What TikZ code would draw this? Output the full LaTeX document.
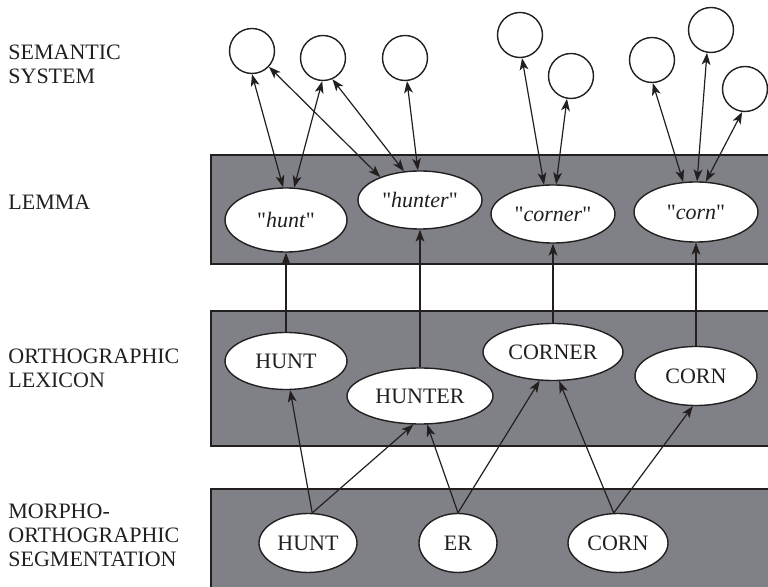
\documentclass[tikz,border=0pt]{standalone}
\usepackage{fontspec}
\setmainfont{Liberation Serif}
\usetikzlibrary{arrows.meta}
\usetikzlibrary{shapes.geometric}
\definecolor{bandgray}{RGB}{128,129,134}
\definecolor{inkblack}{RGB}{35,31,32}
\tikzset{
    layer/.style={draw=inkblack, fill=bandgray, line width=0.6pt},
    meaning/.style={circle, draw=inkblack, fill=white, line width=0.7pt,
        minimum size=22.5pt, inner sep=0pt},
    unit/.style={ellipse, draw=inkblack, fill=white, line width=0.7pt,
        inner sep=0pt, text=inkblack},
    levelname/.style={anchor=base west, align=left, inner sep=0pt, text=inkblack},
    link/.style={draw=inkblack, line width=0.6pt,
        -{Stealth[length=6pt,width=4.4pt,inset=1.6pt]}},
    duallink/.style={draw=inkblack, line width=0.6pt,
        {Stealth[length=6pt,width=4.4pt,inset=1.6pt]}-{Stealth[length=6pt,width=4.4pt,inset=1.6pt]}},
}
\newcommand{\lemmaword}[1]{\textquotedbl\textit{#1}\textquotedbl}

\begin{document}
\begin{tikzpicture}[x=0.5pt, y=-0.5pt, font=\fontsize{11}{12}\selectfont]
		\useasboundingbox (0,0) rectangle (768,587);
		\clip (0,0) rectangle (768,587);
		% bands
		\draw[layer] (211,155) rectangle (790,264);
		\draw[layer] (211,311) rectangle (790,446);
		\draw[layer] (211,489) rectangle (790,600);
		% level names (base = last line)
		\node[levelname] (semName) at (8,84) {SEMANTIC\\SYSTEM};
		\node[levelname] (lemName) at (8,210) {LEMMA};
		\node[levelname] (orthName) at (8,388) {ORTHOGRAPHIC\\LEXICON};
		\node[levelname] (segName) at (8,567) {MORPHO-\\ORTHOGRAPHIC\\SEGMENTATION};
		% semantic system
		\node[meaning] (sem1) at (252,51) {};
		\node[meaning] (sem2) at (323,58) {};
		\node[meaning] (sem3) at (405,58) {};
		\node[meaning] (sem4) at (520,35) {};
		\node[meaning] (sem5) at (571,76) {};
		\node[meaning] (sem6) at (652,60) {};
		\node[meaning] (sem7) at (711,30) {};
		\node[meaning] (sem8) at (745,89) {};
		% lemmas
		\node[unit, minimum width=61pt, minimum height=32pt] (lHunt) at (286,220) {\lemmaword{hunt}};
		\node[unit, minimum width=62pt, minimum height=29pt] (lHunter) at (420,200) {\lemmaword{hunter}};
		\node[unit, minimum width=62pt, minimum height=29pt] (lCorner) at (553,214) {\lemmaword{corner}};
		\node[unit, minimum width=62pt, minimum height=30pt] (lCorn) at (696,212) {\lemmaword{corn}};
		% orthographic lexicon
		\node[unit, minimum width=61pt, minimum height=28.5pt] (oHunt) at (286,361) {HUNT};
		\node[unit, minimum width=73pt, minimum height=28pt] (oHunter) at (420,396) {HUNTER};
		\node[unit, minimum width=70pt, minimum height=28.5pt] (oCorner) at (553,352) {CORNER};
		\node[unit, minimum width=61pt, minimum height=29.5pt] (oCorn) at (696,376) {CORN};
		% segmentation
		\node[unit, minimum width=49pt, minimum height=29.5pt] (mHunt) at (308,543) {HUNT};
		\node[unit, minimum width=39pt, minimum height=29.5pt] (mEr) at (458,543) {ER};
		\node[unit, minimum width=50pt, minimum height=29.5pt] (mCorn) at (618,543) {CORN};
		% semantics <-> lemmas
		\draw[duallink] (sem1.-90) -- (lHunt.95);
		\draw[duallink] (sem1.-43) -- (lHunter.150);
		\draw[duallink] (sem2.-92) -- (lHunt.76);
		\draw[duallink] (sem2.-66) -- (lHunter.119);
		\draw[duallink] (sem3.-85) -- (lHunter.94);
		\draw[duallink] (sem4.-85) -- (lCorner.107);
		\draw[duallink] (sem5.-100) -- (lCorner.84);
		\draw[duallink] (sem6.-88) -- (lCorn.113);
		\draw[duallink] (sem7.-100) -- (lCorn.88);
		\draw[duallink] (sem8.-97) -- (lCorn.72);
		% lexicon -> lemmas
		\draw[link] (oHunt) -- (lHunt);
		\draw[link] (oHunter) -- (lHunter);
		\draw[link] (oCorner) -- (lCorner);
		\draw[link] (oCorn) -- (lCorn);
		% segmentation -> lexicon
		\draw[link] (mHunt.82) -- (oHunt.-82);
		\draw[link] (mHunt.82) -- (oHunter.-103);
		\draw[link] (mEr.north) -- (oHunter.-76);
		\draw[link] (mEr.north) -- (oCorner.-115);
		\draw[link] (mCorn.98) -- (oCorner.-78);
		\draw[link] (mCorn.98) -- (oCorn.-96);
\end{tikzpicture}
\end{document}
